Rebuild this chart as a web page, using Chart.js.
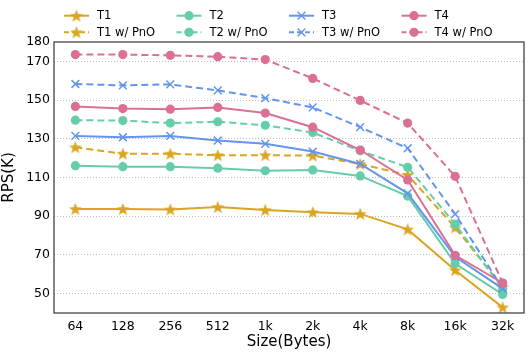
<!DOCTYPE html>
<html>
<head>
<meta charset="utf-8">
<script src="https://cdn.jsdelivr.net/npm/chart.js@4"></script>
<style>
  html, body { margin: 0; padding: 0; background: #fff; }
  #wrap { width: 532px; height: 354px; position: relative; }
</style>
</head>
<body>
<div id="wrap"><canvas id="chart"></canvas></div>
<script>
const sizes = ['64', '128', '256', '512', '1k', '2k', '4k', '8k', '16k', '32k'];
const yTicks = [50, 70, 90, 110, 130, 150, 170, 180];

const t1 = [93.7, 93.7, 93.5, 94.7, 93.2, 92.1, 91.2, 83.2, 62.1, 42.9];
const t1Pno = [125.6, 122.3, 122.3, 121.5, 121.5, 121.3, 117.0, 111.3, 84.2, 53.4];
const t2 = [116.1, 115.6, 115.6, 114.8, 113.5, 113.9, 110.8, 100.4, 65.5, 49.6];
const t2Pno = [139.6, 139.4, 138.1, 138.8, 137.0, 133.2, 123.8, 115.3, 85.9, 52.4];
const t3 = [131.5, 130.8, 131.5, 129.1, 127.4, 123.4, 117.0, 101.8, 69.0, 52.6];
const t3Pno = [158.3, 157.6, 158.1, 155.0, 151.0, 146.2, 136.0, 125.1, 91.1, 52.7];
const t4 = [146.7, 145.6, 145.3, 146.2, 143.3, 136.0, 124.2, 108.7, 69.8, 55.5];
const t4Pno = [173.5, 173.5, 173.1, 172.4, 170.9, 161.2, 149.8, 138.1, 110.6, 55.5];

const gold = '#DAA520';
const green = '#66CDAA';
const blue = '#6495ED';
const pink = '#DB7093';

function starImage(color) {
  const c = document.createElement('canvas');
  c.width = 14; c.height = 14;
  const g = c.getContext('2d');
  g.fillStyle = color;
  g.beginPath();
  for (let i = 0; i < 10; i++) {
    const r = i % 2 === 0 ? 6.8 : 2.8;
    const a = -Math.PI / 2 + i * Math.PI / 5;
    const px = 7 + r * Math.cos(a), py = 7.5 + r * Math.sin(a);
    if (i === 0) g.moveTo(px, py); else g.lineTo(px, py);
  }
  g.closePath();
  g.fill();
  return c;
}

const goldStar = starImage(gold);

const series = [
  { label: 'T1', data: t1, color: gold, style: goldStar, dash: false },
  { label: 'T1 w/ PnO', data: t1Pno, color: gold, style: goldStar, dash: true },
  { label: 'T2', data: t2, color: green, style: 'circle', dash: false },
  { label: 'T2 w/ PnO', data: t2Pno, color: green, style: 'circle', dash: true },
  { label: 'T3', data: t3, color: blue, style: 'crossRot', dash: false },
  { label: 'T3 w/ PnO', data: t3Pno, color: blue, style: 'crossRot', dash: true },
  { label: 'T4', data: t4, color: pink, style: 'circle', dash: false },
  { label: 'T4 w/ PnO', data: t4Pno, color: pink, style: 'circle', dash: true }
];

const datasets = series.map((s, i) => ({
  label: s.label,
  data: s.data.map((v, j) => ({ x: j, y: v })),
  borderColor: s.color,
  backgroundColor: s.color,
  borderWidth: 2,
  borderDash: s.dash ? [7, 4] : [],
  pointStyle: s.style,
  pointRadius: s.style === 'crossRot' ? 5.5 : 4.6,
  pointBorderWidth: s.style === 'crossRot' ? 1.5 : 0,
  pointBackgroundColor: s.color,
  pointBorderColor: s.color,
  tension: 0,
  order: 7 - i
}));

const frameAndLegend = {
  id: 'frameAndLegend',
  afterDraw(chart) {
    const ctx = chart.ctx;
    const a = chart.chartArea;
    ctx.save();
    ctx.strokeStyle = '#444';
    ctx.lineWidth = 1.3;
    ctx.setLineDash([]);
    ctx.strokeRect(a.left, a.top, a.right - a.left, a.bottom - a.top);

    ctx.font = '11.5px "DejaVu Sans"';
    ctx.textBaseline = 'middle';
    series.forEach((s, i) => {
      const col = Math.floor(i / 2), row = i % 2;
      const x0 = 64 + col * 112.5;
      const y = row === 0 ? 15.7 : 32.3;
      ctx.strokeStyle = s.color;
      ctx.lineWidth = 2;
      ctx.setLineDash(s.dash ? [5, 3] : []);
      ctx.beginPath();
      ctx.moveTo(x0, y);
      ctx.lineTo(x0 + 25, y);
      ctx.stroke();
      ctx.setLineDash([]);
      ctx.fillStyle = s.color;
      ctx.lineWidth = s.style === 'crossRot' ? 1.5 : 0;
      Chart.helpers.drawPoint(ctx, {
        pointStyle: s.style,
        rotation: 0,
        radius: s.style === 'crossRot' ? 5.5 : 4.6,
        borderWidth: s.style === 'crossRot' ? 1.5 : 0
      }, x0 + 12.5, y);
      ctx.fillStyle = '#000';
      ctx.textAlign = 'left';
      ctx.fillText(s.label, x0 + 33, y + 0.5);
    });
    ctx.restore();
  }
};

new Chart(document.getElementById('chart'), {
  type: 'line',
  data: { datasets },
  options: {
    responsive: true,
    maintainAspectRatio: false,
    animation: false,
    layout: { padding: { left: 0, top: 42, right: 8, bottom: 0 } },
    plugins: {
      legend: { display: false },
      tooltip: { enabled: false }
    },
    scales: {
      x: {
        type: 'linear',
        min: -0.45,
        max: 9.45,
        afterBuildTicks: s => { s.ticks = sizes.map((_, i) => ({ value: i })); },
        afterFit: s => { s.height = 41; },
        ticks: {
          callback: v => sizes[v],
          color: '#000',
          font: { family: 'DejaVu Sans', size: 12.5 },
          padding: 6,
          maxRotation: 0
        },
        grid: { display: false, drawTicks: false },
        border: { display: false },
        title: {
          display: true,
          text: 'Size(Bytes)',
          color: '#000',
          font: { family: 'DejaVu Sans', size: 15 },
          padding: { top: 0, bottom: 3 }
        }
      },
      y: {
        min: 40,
        max: 180,
        afterBuildTicks: s => { s.ticks = yTicks.map(v => ({ value: v })); },
        afterFit: s => { s.width = 54; },
        ticks: {
          color: '#000',
          font: { family: 'DejaVu Sans', size: 12.5 },
          padding: 4
        },
        grid: {
          drawTicks: false,
          color: c => c.tick && c.tick.value === 180 ? 'rgba(0,0,0,0)' : '#bbb',
          lineWidth: 1
        },
        border: { display: false, dash: [1, 2] },
        title: {
          display: true,
          text: 'RPS(K)',
          color: '#000',
          font: { family: 'DejaVu Sans', size: 15 },
          padding: { top: 0, bottom: 4 }
        }
      }
    }
  },
  plugins: [frameAndLegend]
});
</script>
</body>
</html>
